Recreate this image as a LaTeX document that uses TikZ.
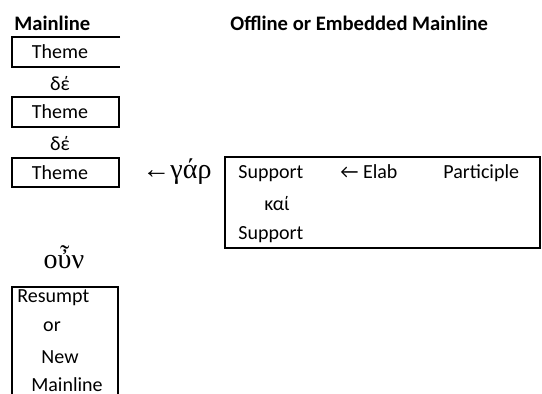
\documentclass[tikz,border=0pt]{standalone}
\usepackage{fontspec}
\setmainfont{Carlito}
\newfontfamily\grk{Liberation Serif}
\begin{document}
\begin{tikzpicture}[x=0.5pt,y=-0.5pt]

      \tikzset{txt/.style={inner sep=0pt, font=\fontsize{10}{12}\selectfont},
               head/.style={txt, anchor=west, font=\fontsize{10.3}{12}\selectfont\bfseries},
               conj/.style={inner sep=0pt, font=\fontsize{14}{16}\selectfont\grk},
               frame/.style={draw, line width=1pt}}
      \useasboundingbox (0,0) rectangle (542,394);
%% Headers
      	\node[head] (mainhd) at (14,23) {Mainline};
      	\node[head] (offhd) at (230,23) {Offline or Embedded Mainline};
%% Mainline column
      	\node[txt] (th1) at (60,52) {Theme};
      	\node[txt] (de1) at (60,84) {δέ};
      	\node[txt] (th2) at (60,112) {Theme};
      	\node[txt] (de2) at (60,144) {δέ};
      	\node[txt] (th3) at (60,173) {Theme};
      	\node[conj] (gar) at (177,172) {←γάρ};
      	\node[conj] (oun) at (64,257) {οὖν};
%% Offline box
      	\node[txt, anchor=base west] (sup1) at (238,179) {Support};
      	\node[txt, anchor=base west] (elab) at (340,179) {← Elab};
      	\node[txt, anchor=base west] (part) at (443,179) {Participle};
      	\node[txt] (kai) at (277,204) {καί};
      	\node[txt, anchor=west] (sup2) at (238,235) {Support};
%% Resumption
      	\node[txt, anchor=west] (res) at (17,298) {Resumpt};
      	\node[txt] (or) at (52,327) {or};
      	\node[txt] (new) at (60,357) {New};
      	\node[txt] (newml) at (67,385) {Mainline};
%Frames
		\draw[frame] (120,37) -- (12,37) -- (12,67) -- (120,67);
		\draw[frame] (12,97) rectangle (119,127);
		\draw[frame] (12,158) rectangle (119,187);
		\draw[frame] (225,157) rectangle (540,248);
		\draw[frame] (12,394) -- (12,287) -- (118,287) -- (118,394);

	\end{tikzpicture}
\end{document}
